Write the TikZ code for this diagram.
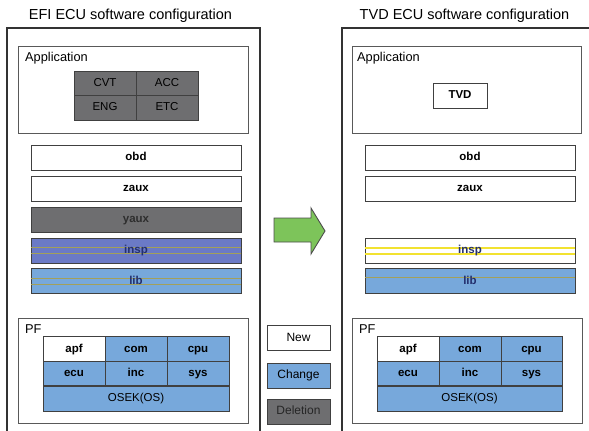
\documentclass[tikz,border=0pt]{standalone}
\usepackage{fontspec}
\setmainfont{Liberation Sans}
\begin{document}
\begin{tikzpicture}[x=1pt,y=-1pt,
  frame/.style={draw=black!80,line width=1.3pt},
  panel/.style={draw=black!65,line width=0.9pt,rectangle,inner sep=0pt},
  cell/.style={draw=black!75,line width=0.9pt,rectangle,inner sep=0pt,
    text height=8.5pt,text depth=2.5pt,font=\fontsize{11.5}{13}\selectfont},
  boldcell/.style={cell,font=\fontsize{11.5}{13}\selectfont\bfseries},
  newc/.style={boldcell,fill=white},
  chg/.style={boldcell,fill=chgblue},
  del/.style={cell,fill=delgray},
  heading/.style={font=\fontsize{14.5}{17}\selectfont,inner sep=0pt},
  lbl/.style={font=\fontsize{12.8}{15}\selectfont,inner sep=0pt,anchor=base west},
  legend/.style={cell,font=\fontsize{12}{14}\selectfont,minimum width=63pt,minimum height=25pt},
  layer/.style={minimum width=210pt,minimum height=25pt},
  grid/.style={minimum width=62pt,minimum height=24.5pt},
  stripetext/.style={font=\fontsize{11.5}{13}\selectfont\bfseries,text=navytext}]
\definecolor{chgblue}{HTML}{77A8DB}
\definecolor{delgray}{HTML}{6E6E70}
\definecolor{insppurple}{HTML}{6B7AC6}
\definecolor{stripe}{HTML}{A3A05A}
\definecolor{yellowstripe}{HTML}{F2E230}
\definecolor{navytext}{HTML}{24306E}
\definecolor{arrowgreen}{HTML}{7DC45A}
\useasboundingbox (0,0) rectangle (589,431);

% ---------- headings ----------
\node[heading] (titleL) at (130.5,16) {EFI ECU software configuration};
\node[heading] (titleR) at (464.5,16) {TVD ECU software configuration};

% ---------- outer frames (open at the bottom) ----------
\draw[frame] (7,433) -- (7,28) -- (260,28) -- (260,433);
\draw[frame] (342,433) -- (342,28) -- (591,28);

% ---------- EFI: application layer ----------
\node[panel,minimum width=230pt,minimum height=87pt] (appL) at (133,89.5) {};
\node[lbl] (appLtxt) at (25,61) {Application};
\node[del,grid] (cvt) at (105,83.25) {CVT};
\node[del,grid] (acc) at (167,83.25) {ACC};
\node[del,grid] (eng) at (105,107.75) {ENG};
\node[del,grid] (etc) at (167,107.75) {ETC};

% ---------- EFI: middle layers ----------
\node[newc,layer] (obdL) at (136,157.5) {obd};
\node[newc,layer] (zauxL) at (136,188.5) {zaux};
\node[del,layer,font=\fontsize{11.5}{13}\selectfont\bfseries,text=black!82] (yauxL) at (136,219.5) {yaux};
\node[cell,layer,fill=insppurple] (inspL) at (136,250.5) {};
\draw[stripe,line width=1pt] ([yshift=-10pt]inspL.north west) -- ([yshift=-10pt]inspL.north east);
\draw[stripe,line width=1pt] ([yshift=-16pt]inspL.north west) -- ([yshift=-16pt]inspL.north east);
\node[stripetext] (inspLtxt) at (inspL.center) {insp};
\node[cell,layer,fill=chgblue] (libL) at (136,280.5) {};
\draw[stripe,line width=1pt] ([yshift=-11pt]libL.north west) -- ([yshift=-11pt]libL.north east);
\draw[stripe,line width=1pt] ([yshift=-17pt]libL.north west) -- ([yshift=-17pt]libL.north east);
\node[stripetext] (libLtxt) at (libL.center) {lib};

% ---------- EFI: platform ----------
\node[panel,minimum width=230pt,minimum height=105pt] (pfL) at (133,370.5) {};
\node[lbl] (pfLtxt) at (25,333) {PF};
\node[newc,grid] (apfL) at (74,349) {apf};
\node[chg,grid] (comL) at (136,349) {com};
\node[chg,grid] (cpuL) at (198,349) {cpu};
\node[chg,grid] (ecuL) at (74,373.5) {ecu};
\node[chg,grid] (incL) at (136,373.5) {inc};
\node[chg,grid] (sysL) at (198,373.5) {sys};
\node[cell,fill=chgblue,minimum width=186pt,minimum height=25pt] (osL) at (136,398.5) {OSEK(OS)};

% ---------- transition arrow ----------
\draw[draw=black!70,line width=0.9pt,fill=arrowgreen,line join=miter]
  (274,218) coordinate (arrowtail) -- (311,218) -- (311,208) -- (325,231) coordinate (arrowtip)
  -- (311,254) -- (311,242) -- (274,242) -- cycle;

% ---------- legend ----------
\node[legend,fill=white] (legNew) at (298.5,338) {New};
\node[legend,fill=chgblue] (legChg) at (298.5,375.5) {Change};
\node[legend,fill=delgray,text=black!85] (legDel) at (298.5,411.5) {Deletion};

% ---------- TVD: application layer ----------
\node[panel,minimum width=229pt,minimum height=87pt] (appR) at (466.5,89.5) {};
\node[lbl] (appRtxt) at (357,61) {Application};
\node[newc,minimum width=54pt,minimum height=25pt] (tvd) at (460,95.5) {TVD};

% ---------- TVD: middle layers ----------
\node[newc,layer] (obdR) at (470,157.5) {obd};
\node[newc,layer] (zauxR) at (470,188.5) {zaux};
\node[cell,layer,fill=white] (inspR) at (470,250.5) {};
\draw[yellowstripe,line width=2pt] ([yshift=-10pt]inspR.north west) -- ([yshift=-10pt]inspR.north east);
\draw[yellowstripe,line width=2pt] ([yshift=-16pt]inspR.north west) -- ([yshift=-16pt]inspR.north east);
\node[stripetext] (inspRtxt) at (inspR.center) {insp};
\node[cell,layer,fill=chgblue] (libR) at (470,280.5) {};
\draw[stripe,line width=1pt] ([yshift=-10pt]libR.north west) -- ([yshift=-10pt]libR.north east);
\node[stripetext] (libRtxt) at (libR.center) {lib};

% ---------- TVD: platform ----------
\node[panel,minimum width=230pt,minimum height=105pt] (pfR) at (467,370.5) {};
\node[lbl] (pfRtxt) at (359,333) {PF};
\node[newc,grid] (apfR) at (408,349) {apf};
\node[chg,grid] (comR) at (470,349) {com};
\node[chg,grid,minimum width=61pt] (cpuR) at (531.5,349) {cpu};
\node[chg,grid] (ecuR) at (408,373.5) {ecu};
\node[chg,grid] (incR) at (470,373.5) {inc};
\node[chg,grid,minimum width=61pt] (sysR) at (531.5,373.5) {sys};
\node[cell,fill=chgblue,minimum width=185pt,minimum height=25pt] (osR) at (469.5,398.5) {OSEK(OS)};
\end{tikzpicture}
\end{document}
